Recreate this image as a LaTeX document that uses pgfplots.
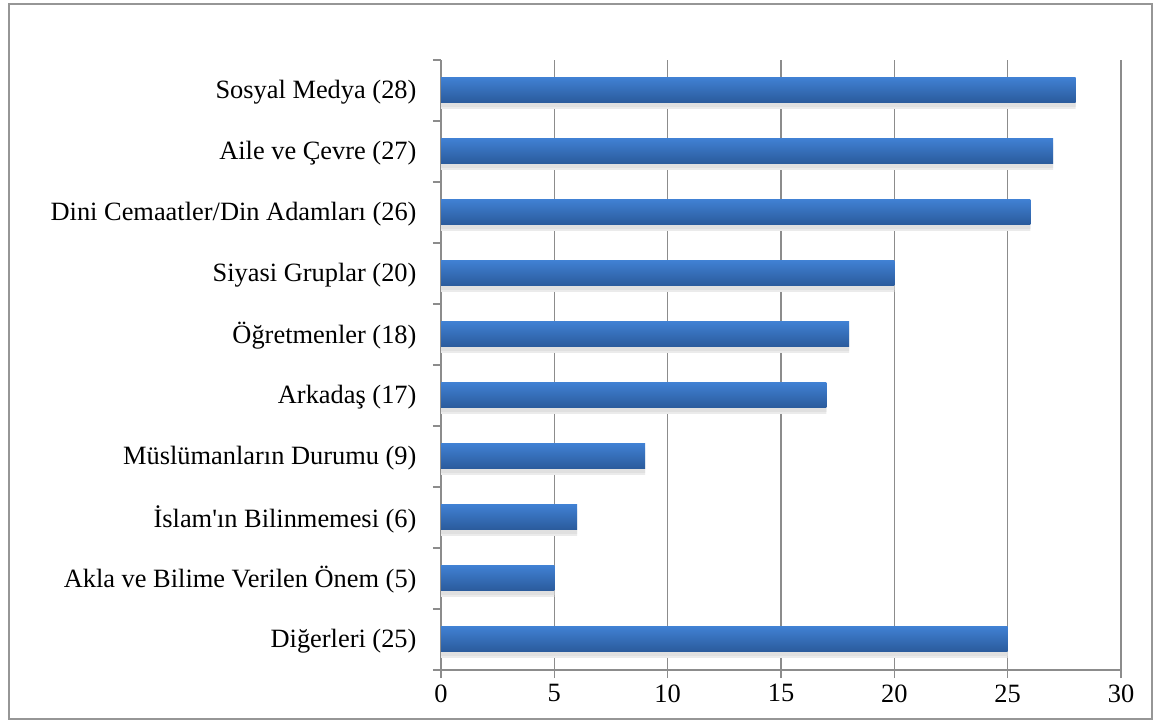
\documentclass[border=0pt]{standalone}
\usepackage{fontspec}
\setmainfont{Liberation Serif}[Ligatures=TeXOff]
\usepackage{pgfplots}
\pgfplotsset{compat=1.18}
\definecolor{barTop}{RGB}{64,128,210}
\definecolor{barBot}{RGB}{42,90,155}
\definecolor{frameGray}{RGB}{150,150,150}
\definecolor{gridGray}{RGB}{140,140,140}
\begin{document}
\begin{tikzpicture}
\useasboundingbox (0,0) rectangle (1155bp,722bp);
\draw[frameGray, line width=2bp] (9bp,3bp) rectangle (1152bp,718bp);
\begin{axis}[
  at={(441bp,52bp)}, anchor=south west,
  scale only axis, width=680bp, height=610bp,
  xmin=0, xmax=30, ymin=-0.5, ymax=9.5,
  axis x line*=bottom, axis y line*=left,
  axis line style={gridGray, line width=1.2bp, -},
  xtick={0,5,...,30},
  xmajorgrids, grid style={gridGray, line width=1.2bp},
  ytick={0,...,9},
  yticklabels={Diğerleri (25),Akla ve Bilime Verilen Önem (5),İslam'ın Bilinmemesi (6),Müslümanların Durumu (9),Arkadaş (17),Öğretmenler (18),Siyasi Gruplar (20),Dini Cemaatler/Din Adamları (26),Aile ve Çevre (27),Sosyal Medya (28)},
  minor ytick={-0.5,0.5,...,9.5},
  tick align=outside,
  major tick length=8bp, minor tick length=8bp,
  major y tick style={draw=none},
  minor y tick style={gridGray, line width=1.2bp},
  xtick style={gridGray, line width=1.2bp},
  /pgf/number format/assume math mode=true,
  yticklabel style={font=\fontsize{26.5}{30}\selectfont, xshift=-13bp, yshift=-1.5bp},
  xticklabel style={font=\fontsize{26.5}{30}\selectfont, yshift=-3bp},
  clip=false,
]
\addplot[xbar, bar width=25bp, bar shift=-6bp, draw=none, fill=black!8] coordinates {
(25,0) (5,1) (6,2) (9,3) (17,4) (18,5) (20,6) (26,7) (27,8) (28,9)};
\addplot[xbar, bar width=25bp, bar shift=-4bp, draw=none, fill=black!12] coordinates {
(25,0) (5,1) (6,2) (9,3) (17,4) (18,5) (20,6) (26,7) (27,8) (28,9)};
\addplot[xbar, bar width=25bp, bar shift=0bp, draw=none, top color=barTop, bottom color=barBot] coordinates {(25,0)};
\addplot[xbar, bar width=25bp, bar shift=0bp, draw=none, top color=barTop, bottom color=barBot] coordinates {(5,1)};
\addplot[xbar, bar width=25bp, bar shift=0bp, draw=none, top color=barTop, bottom color=barBot] coordinates {(6,2)};
\addplot[xbar, bar width=25bp, bar shift=0bp, draw=none, top color=barTop, bottom color=barBot] coordinates {(9,3)};
\addplot[xbar, bar width=25bp, bar shift=0bp, draw=none, top color=barTop, bottom color=barBot] coordinates {(17,4)};
\addplot[xbar, bar width=25bp, bar shift=0bp, draw=none, top color=barTop, bottom color=barBot] coordinates {(18,5)};
\addplot[xbar, bar width=25bp, bar shift=0bp, draw=none, top color=barTop, bottom color=barBot] coordinates {(20,6)};
\addplot[xbar, bar width=25bp, bar shift=0bp, draw=none, top color=barTop, bottom color=barBot] coordinates {(26,7)};
\addplot[xbar, bar width=25bp, bar shift=0bp, draw=none, top color=barTop, bottom color=barBot] coordinates {(27,8)};
\addplot[xbar, bar width=25bp, bar shift=0bp, draw=none, top color=barTop, bottom color=barBot] coordinates {(28,9)};
\end{axis}
\end{tikzpicture}
\end{document}
